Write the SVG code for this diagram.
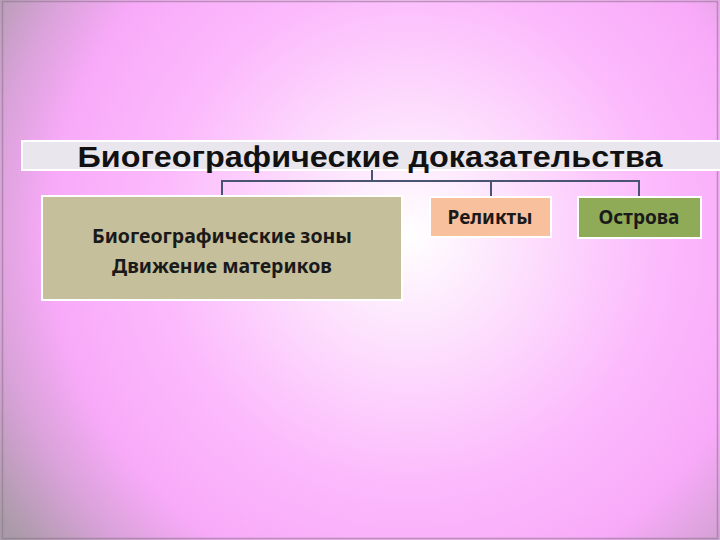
<svg xmlns="http://www.w3.org/2000/svg" width="720" height="540" viewBox="0 0 720 540">
<defs>
<radialGradient id="bg" cx="410" cy="235" r="500" gradientUnits="userSpaceOnUse">
<stop offset="0" stop-color="#ffffff"/>
<stop offset="0.2" stop-color="#fde4fd"/>
<stop offset="0.5" stop-color="#fcbafc"/>
<stop offset="0.72" stop-color="#f8aaf8"/>
<stop offset="0.85" stop-color="#d8a2d8"/>
<stop offset="1" stop-color="#a89aa6"/>
</radialGradient>
<style>
.box{stroke:#ffffff;stroke-width:2}
.lbl{font-family:"Noto Sans","Liberation Sans",sans-serif;font-weight:bold;font-size:19.5px;fill:#1a1a1a;text-anchor:middle}
.sm{font-size:19px}
.conn{fill:none;stroke:#4a5472;stroke-width:2}
</style>
</defs>
<rect width="720" height="540" fill="url(#bg)"/>
<rect x="2.5" y="1.5" width="715" height="537" fill="none" stroke="#8a7a8a" stroke-width="1.5" opacity="0.6"/>
<g id="title">
<rect x="22" y="141" width="700" height="29" fill="#e9e6ee" stroke="#ffffff" stroke-width="2"/>
<text x="370" y="167" font-family="'Liberation Sans',Arial,sans-serif" font-weight="bold" font-size="29" text-anchor="middle" fill="#111" textLength="585" lengthAdjust="spacingAndGlyphs">Биогеографические  доказательства</text>
</g>
<g id="connectors">
<path class="conn" d="M372 170V181M222 181H639M222 180V196M491 180V197M639 180V197"/>
</g>
<g id="zones">
<rect class="box" x="42" y="196" width="360" height="104" fill="#c6bf9b"/>
<text class="lbl" x="222" y="243">Биогеографические зоны</text>
<text class="lbl" x="222" y="273">Движение материков</text>
</g>
<g id="relicts">
<rect class="box" x="430" y="197" width="121" height="40" fill="#f8c09c"/>
<text class="lbl sm" x="490" y="224">Реликты</text>
</g>
<g id="islands">
<rect class="box" x="578" y="197" width="123" height="41" fill="#8fab58"/>
<text class="lbl sm" x="639" y="224">Острова</text>
</g>
</svg>
